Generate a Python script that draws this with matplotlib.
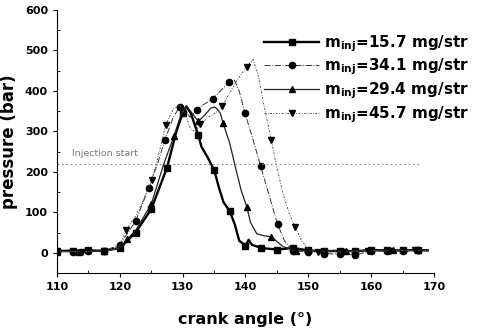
import matplotlib
matplotlib.use("Agg")
from matplotlib import pyplot as plt
from matplotlib.ticker import MultipleLocator

# crank angle (deg) and pressure (bar)
angle_157 = [110, 112.5, 115, 117.5, 120, 122.5, 125, 127.5, 129, 130, 130.6, 131.3, 132.5, 133, 134, 135,
             135.8, 136.5, 137.5, 138.3, 139, 140, 140.5, 141, 142.5, 145, 147.5, 150, 152.5, 155, 157.5,
             160, 162.5, 165, 167.5, 169]
press_157 = [5, 5, 6, 5, 12, 50, 108, 210, 300, 345, 362, 345, 290, 262, 235, 205,
             160, 125, 103, 70, 30, 18, 32, 20, 12, 8, 12, 6, 4, 5, 4,
             7, 6, 6, 7, 6]
marks_157 = [110, 112.5, 115, 117.5, 120, 122.5, 125, 127.5, 130, 132.5, 135, 137.5, 140, 142.5, 145,
             147.5, 150, 152.5, 155, 157.5, 160, 162.5, 165, 167.5]

angle_341 = [110, 112.5, 115, 117.5, 120, 122.5, 124.6, 126, 127.2, 128.5, 129.5, 130.3, 131.2, 132.3,
             133.5, 134.8, 136, 137.4, 138.2, 139, 139.9, 141.2, 142.4, 143.8, 145.1, 146.2, 147.5, 150,
             152.5, 155, 157.5, 160, 162.5, 165, 167.5, 169]
press_341 = [4, 3, 4, 5, 20, 78, 160, 220, 280, 335, 360, 355, 335, 354,
             368, 381, 400, 421, 428, 400, 346, 280, 215, 140, 71, 30, 5, 3,
             -2, -3, -5, 5, 4, 5, 6, 5]
marks_341 = [110, 112.5, 115, 117.5, 120, 122.5, 124.6, 127.2, 129.5, 132.3, 134.8, 137.4, 139.9, 142.4,
             145.1, 147.5, 150, 152.5, 155, 157.5, 160, 162.5, 165, 167.5]

angle_294 = [110, 113.5, 117.5, 120, 121.1, 122.5, 125, 127, 128.6, 129.7, 130.6, 131.5, 132.5, 133.5,
             134.5, 135.2, 136, 136.4, 137.5, 138.5, 139.3, 140.2, 140.8, 141.8, 143, 144.1, 145, 146,
             148, 152.5, 156, 160, 163.5, 167.5, 169]
press_294 = [3, 3, 4, 12, 33, 55, 120, 220, 288, 340, 362, 345, 325, 340,
             358, 360, 345, 322, 270, 205, 155, 114, 75, 47, 42, 40, 28, 15,
             5, 5, 4, 6, 6, 7, 6]
marks_294 = [110, 113.5, 117.5, 121.1, 125, 128.6, 132.5, 136.4, 140.2, 144.1, 148, 152.5, 156, 160,
             163.5, 167.5]

angle_457 = [110, 114, 117.5, 119, 120, 121, 122.5, 124, 125.1, 126.3, 127.3, 128.5, 129.5, 130.3, 131.3,
             132, 132.8, 134, 135.2, 136.3, 137.5, 138.8, 140.2, 141.2, 142, 143, 144.1, 145, 146, 147,
             147.9, 149, 150, 151.5, 155.5, 159.5, 163, 167, 169]
press_457 = [3, 3, 5, 8, 18, 57, 90, 140, 180, 250, 317, 355, 365, 345, 305,
             300, 318, 335, 345, 362, 395, 430, 460, 478, 440, 360, 279, 210, 145, 95,
             64, 28, 10, 3, 2, 5, 4, 6, 5]
marks_457 = [110, 114, 117.5, 121, 125.1, 127.3, 132.8, 136.3, 140.2, 144.1, 147.9, 151.5, 155.5, 159.5,
             163, 167]

labels = [r"m$_{inj}$=15.7 mg/str", r"m$_{inj}$=34.1 mg/str",
          r"m$_{inj}$=29.4 mg/str", r"m$_{inj}$=45.7 mg/str"]

injection_start = 220

plt.rcParams["mathtext.default"] = "bf"
plt.rcParams["font.weight"] = "bold"

fig = plt.figure(figsize=(4.79, 3.33), dpi=100)
ax = fig.add_axes([0.119, 0.180, 0.787, 0.790])

series = [
    (angle_157, press_157, marks_157, dict(color="black", lw=1.7, ls="-", marker="s", ms=5)),
    (angle_341, press_341, marks_341, dict(color="#333333", lw=0.7, ls="-.", marker="o", ms=4.5)),
    (angle_294, press_294, marks_294, dict(color="#222222", lw=0.9, ls="-", marker="^", ms=5)),
    (angle_457, press_457, marks_457, dict(color="#555555", lw=0.7, ls=(0, (2, 1.5, 0.8, 1.5)), marker="v", ms=5)),
]

for (x, y, marks, style), label in zip(series, labels):
    every = [i for i, a in enumerate(x) if a in marks]
    ax.plot(x, y, markevery=every, mfc="black", mec="black", label=label, **style)

ax.plot([110, 168], [injection_start, injection_start], color="#888888", lw=0.8, ls=(0, (1.5, 2.5)))
ax.text(112.4, injection_start + 14, "Injection start", fontsize=6.8, color="#777777",
        fontweight="normal", va="bottom")

ax.set_xlim(110, 170)
ax.set_ylim(-50, 600)
ax.xaxis.set_major_locator(MultipleLocator(10))
ax.xaxis.set_minor_locator(MultipleLocator(5))
ax.yaxis.set_major_locator(MultipleLocator(100))
ax.yaxis.set_minor_locator(MultipleLocator(50))
ax.tick_params(which="major", direction="out", length=3, width=0.8, labelsize=8)
ax.tick_params(which="minor", direction="in", length=2, width=0.6)
for lab in ax.get_xticklabels() + ax.get_yticklabels():
    lab.set_fontweight("bold")

ax.spines["top"].set_visible(False)
ax.spines["right"].set_visible(False)

ax.set_xlabel("crank angle (°)", fontsize=11.5, fontweight="bold", labelpad=14)
ax.set_ylabel("pressure (bar)", fontsize=12, fontweight="bold", labelpad=5)

ax.legend(loc="upper right", bbox_to_anchor=(1.11, 0.935), frameon=False, fontsize=11,
          handlelength=3.6, handletextpad=0.3, labelspacing=0.2, borderaxespad=0)

fig.savefig("out.png", dpi=100)
